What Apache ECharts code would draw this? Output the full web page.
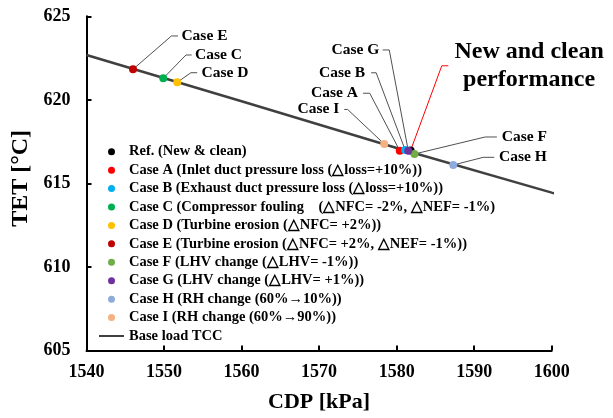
<!DOCTYPE html>
<html>
<head>
<meta charset="utf-8">
<script src="https://cdn.jsdelivr.net/npm/echarts@6/dist/echarts.min.js"></script>
<style>html,body{margin:0;padding:0;background:#fff;}#c{width:613px;height:418px;}</style>
</head>
<body>
<div id="c"></div>
<script>
// ---- data ----
const seriesNames = [
  'Ref. (New & clean)',
  'Case A (Inlet duct pressure loss (△loss=+10%))',
  'Case B (Exhaust duct pressure loss (△loss=+10%))',
  'Case C (Compressor fouling    (△NFC= -2%, △NEF= -1%)',
  'Case D (Turbine erosion (△NFC= +2%))',
  'Case E (Turbine erosion (△NFC= +2%, △NEF= -1%))',
  'Case F (LHV change (△LHV= -1%))',
  'Case G (LHV change (△LHV= +1%))',
  'Case H (RH change (60%→10%))',
  'Case I (RH change (60%→90%))'
];
const shortLabels = ['New and clean\nperformance', 'Case A', 'Case B', 'Case C', 'Case D', 'Case E', 'Case F', 'Case G', 'Case H', 'Case I'];
const cdp = [1581.8, 1580.4, 1581.1, 1549.9, 1551.7, 1546.0, 1582.3, 1581.5, 1587.3, 1578.4];
const tet = [616.97, 616.96, 617.00, 621.29, 621.05, 621.83, 616.76, 616.96, 616.10, 617.36];
const lineName = 'Base load TCC';
const tccCdp = [1540, 1560, 1580, 1600, 1602.5];
const tccTet = [622.68, 619.92, 617.12, 614.45, 614.12];
const xTicks = [1540, 1550, 1560, 1570, 1580, 1590, 1600];
const yTicks = [605, 610, 615, 620, 625];

// ---- styles / layout ----
const colors = ['#000000', '#ff0000', '#00b0f0', '#00b050', '#ffc000', '#c00000', '#70ad47', '#7030a0', '#8faadc', '#f4b183'];
const FONT = 'Liberation Serif, Times New Roman, serif';
// annotation layout, pixel offsets relative to each point
const annot = [
  {dx: 118.5, dy: -84.7, align: 'center', end: 37.8, elbow: 31.2, color: '#ff0000', size: 24, lh: 28},
  {dx: -41.7, dy: -57.4, align: 'right', end: -36.7, elbow: -30},
  {dx: -40, dy: -77.2, align: 'right', end: -34, elbow: -29},
  {dx: 31.7, dy: -23.3, align: 'left', end: 28.4, elbow: 22.7},
  {dx: 24.4, dy: -9.6, align: 'left', end: 20, elbow: 13.7},
  {dx: 48.4, dy: -33.3, align: 'left', end: 45, elbow: 38.4},
  {dx: 87.4, dy: -17, align: 'left', end: 82.4, elbow: 70.7},
  {dx: -29, dy: -100.7, align: 'right', end: -25.6, elbow: -19},
  {dx: 45.7, dy: -7.7, align: 'left', end: 41, elbow: 30},
  {dx: -45, dy: -34.5, align: 'right', end: -40, elbow: -36.6}
];
// legend layout: first marker centre, row pitch, text offset below marker per row
const LEG_LEFT = 99, LEG_TOP = 151.7, LEG_STEP = 18.43, LEG_LH = 18.33, PAD_FIX = 9;
const legTextShift = [1, 5.3, 5, 6, 5.7, 6, 6.6, 6, 2.4, 2, 0];

const chart = echarts.init(document.getElementById('c'), null, {renderer: 'canvas'});

const series = [];
series.push({
  name: lineName, type: 'line', data: tccCdp.map((x, i) => [x, tccTet[i]]),
  symbol: 'none', showSymbol: false, clip: false, z: 2,
  lineStyle: {color: '#404040', width: 2.5}, itemStyle: {color: '#404040'}
});
series.push({
  type: 'custom', z: 1, clip: false, silent: true,
  data: cdp.map((x, i) => [x, tet[i]]),
  renderItem: function (params, api) {
    const i = params.dataIndex;
    const p = api.coord([api.value(0), api.value(1)]);
    const a = annot[i];
    const ly = p[1] + a.dy;
    return {
      type: 'group',
      children: [
        {type: 'polyline', shape: {points: [[p[0], p[1]], [p[0] + a.elbow, ly], [p[0] + a.end, ly]]},
         style: {stroke: a.color || '#505050', lineWidth: 1, fill: null}},
        {type: 'text', x: p[0] + a.dx, y: ly,
         style: {text: shortLabels[i], align: a.align, verticalAlign: 'middle',
           font: 'bold ' + (a.size || 15.5) + 'px ' + FONT, lineHeight: a.lh || 18, fill: '#000'}}
      ]
    };
  }
});
seriesNames.forEach((n, i) => {
  series.push({
    name: n, type: 'scatter', data: [[cdp[i], tet[i]]], symbol: 'circle', symbolSize: 8,
    itemStyle: {color: colors[i], opacity: 1}, z: 3
  });
});

const legendItems = seriesNames.concat([lineName]);
const legends = legendItems.map((name, i) => {
  const off = legTextShift[i];
  const isLine = name === lineName;
  const ts = {fontFamily: FONT, fontWeight: 'bold', fontSize: 14.5, color: '#000', lineHeight: LEG_LH};
  if (off > 0) ts.padding = [2 * off, 0, 0, 0];
  return {
    data: isLine ? [{name: name, icon: 'rect'}] : [name],
    orient: 'vertical', left: LEG_LEFT + (off > 0 ? PAD_FIX : 0),
    top: LEG_TOP + i * LEG_STEP - LEG_LH / 2 - off,
    padding: 0, itemGap: 0, itemWidth: 25, itemHeight: isLine ? 2 : 7, selectedMode: false,
    textStyle: ts
  };
});

chart.setOption({
  animation: false,
  backgroundColor: '#fff',
  grid: {left: 86.5, right: 61.3, top: 16.3, bottom: 67.5, containLabel: false},
  legend: legends,
  xAxis: {
    type: 'value', min: xTicks[0], max: xTicks[xTicks.length - 1], interval: 10,
    name: 'CDP [kPa]', nameLocation: 'middle', nameGap: 40.5,
    nameTextStyle: {fontFamily: FONT, fontWeight: 'bold', fontSize: 22, color: '#000'},
    axisLine: {show: true, onZero: false, lineStyle: {color: '#000', width: 2}},
    axisTick: {show: true, inside: true, length: 5, lineStyle: {color: '#000', width: 2}},
    axisLabel: {fontFamily: FONT, fontWeight: 'bold', fontSize: 18, color: '#000', margin: 13,
      formatter: v => String(v)},
    splitLine: {show: false}
  },
  yAxis: {
    type: 'value', min: yTicks[0], max: yTicks[yTicks.length - 1], interval: 5,
    name: 'TET [°C]', nameLocation: 'middle', nameGap: 48,
    nameTextStyle: {fontFamily: FONT, fontWeight: 'bold', fontSize: 24, color: '#000', padding: [0, 0, 0, 10]},
    axisLine: {show: true, onZero: false, lineStyle: {color: '#000', width: 2}},
    axisTick: {show: true, inside: true, length: 5, lineStyle: {color: '#000', width: 2}},
    axisLabel: {fontFamily: FONT, fontWeight: 'bold', fontSize: 18, color: '#000', margin: 16,
      formatter: v => String(v)},
    splitLine: {show: false}
  },
  series: series
});
</script>
</body>
</html>
